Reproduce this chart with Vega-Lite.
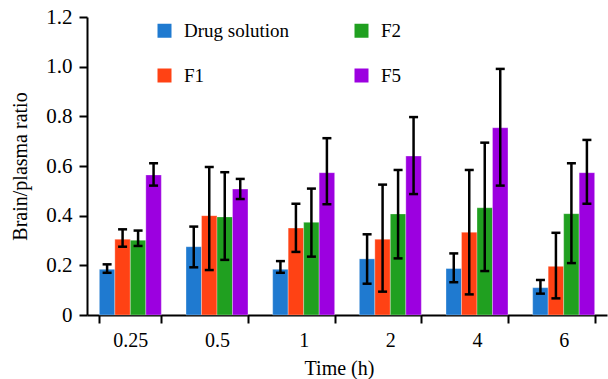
{
  "$schema": "https://vega.github.io/schema/vega-lite/v6.json",
  "width": 520,
  "height": 298,
  "autosize": {"type": "none"},
  "padding": {"left": 87, "top": 17, "right": 1, "bottom": 64},
  "config": {
    "view": {"stroke": null},
    "font": "Liberation Serif",
    "axis": {
      "domainColor": "black",
      "domainWidth": 2,
      "tickColor": "black",
      "tickWidth": 2,
      "tickSize": 8,
      "labelFontSize": 20,
      "labelColor": "black",
      "labelFont": "Liberation Serif",
      "titleFont": "Liberation Serif",
      "titleFontSize": 20,
      "titleFontWeight": "normal",
      "titleColor": "black",
      "grid": false
    },
    "legend": {
      "labelFont": "Liberation Serif",
      "labelFontSize": 19,
      "labelColor": "black"
    }
  },
  "data": {
    "values": [
      {"time": "0.25", "group": "Drug solution", "mean": 0.184, "lo": 0.170, "hi": 0.204},
      {"time": "0.25", "group": "F1", "mean": 0.305, "lo": 0.275, "hi": 0.345},
      {"time": "0.25", "group": "F2", "mean": 0.301, "lo": 0.278, "hi": 0.340},
      {"time": "0.25", "group": "F5", "mean": 0.564, "lo": 0.521, "hi": 0.611},
      {"time": "0.5", "group": "Drug solution", "mean": 0.275, "lo": 0.192, "hi": 0.356},
      {"time": "0.5", "group": "F1", "mean": 0.400, "lo": 0.181, "hi": 0.596},
      {"time": "0.5", "group": "F2", "mean": 0.395, "lo": 0.222, "hi": 0.575},
      {"time": "0.5", "group": "F5", "mean": 0.507, "lo": 0.467, "hi": 0.548},
      {"time": "1", "group": "Drug solution", "mean": 0.184, "lo": 0.170, "hi": 0.217},
      {"time": "1", "group": "F1", "mean": 0.350, "lo": 0.254, "hi": 0.448},
      {"time": "1", "group": "F2", "mean": 0.373, "lo": 0.235, "hi": 0.509},
      {"time": "1", "group": "F5", "mean": 0.573, "lo": 0.446, "hi": 0.712},
      {"time": "2", "group": "Drug solution", "mean": 0.226, "lo": 0.126, "hi": 0.325},
      {"time": "2", "group": "F1", "mean": 0.305, "lo": 0.094, "hi": 0.525},
      {"time": "2", "group": "F2", "mean": 0.407, "lo": 0.228, "hi": 0.584},
      {"time": "2", "group": "F5", "mean": 0.640, "lo": 0.487, "hi": 0.797},
      {"time": "4", "group": "Drug solution", "mean": 0.187, "lo": 0.132, "hi": 0.248},
      {"time": "4", "group": "F1", "mean": 0.333, "lo": 0.083, "hi": 0.584},
      {"time": "4", "group": "F2", "mean": 0.432, "lo": 0.177, "hi": 0.694},
      {"time": "4", "group": "F5", "mean": 0.754, "lo": 0.521, "hi": 0.991},
      {"time": "6", "group": "Drug solution", "mean": 0.110, "lo": 0.086, "hi": 0.141},
      {"time": "6", "group": "F1", "mean": 0.196, "lo": 0.067, "hi": 0.331},
      {"time": "6", "group": "F2", "mean": 0.408, "lo": 0.209, "hi": 0.611},
      {"time": "6", "group": "F5", "mean": 0.573, "lo": 0.448, "hi": 0.705}
    ]
  },
  "encoding": {
    "x": {
      "field": "time",
      "type": "nominal",
      "sort": ["0.25", "0.5", "1", "2", "4", "6"],
      "scale": {"paddingInner": 0.285, "paddingOuter": 0.1425},
      "axis": {"title": "Time (h)", "labelAngle": 0, "tickBand": "extent", "labelPadding": 7, "titlePadding": 8, "titleX": 252}
    },
    "xOffset": {
      "field": "group",
      "type": "nominal",
      "sort": ["Drug solution", "F1", "F2", "F5"],
      "scale": {"paddingInner": 0, "paddingOuter": 0}
    }
  },
  "layer": [
    {
      "mark": {"type": "bar", "stroke": "#ffffff", "strokeWidth": 0.6, "strokeOpacity": 0.5},
      "encoding": {
        "y": {
          "field": "mean",
          "type": "quantitative",
          "scale": {"domain": [0, 1.2], "nice": false},
          "axis": {
            "title": "Brain/plasma ratio",
            "values": [0, 0.2, 0.4, 0.6, 0.8, 1.0, 1.2],
            "labelExpr": "datum.value == 0 ? '0' : format(datum.value, '.1f')",
            "labelFontSize": 21,
            "labelPadding": 7,
            "titlePadding": 15
          }
        },
        "color": {
          "field": "group",
          "type": "nominal",
          "scale": {
            "domain": ["Drug solution", "F1", "F2", "F5"],
            "range": ["#1f7ad0", "#ff4214", "#20a020", "#9c00e0"]
          },
          "legend": {
            "title": null,
            "orient": "none",
            "legendX": 68,
            "legendY": 4,
            "columns": 2,
            "symbolType": "square",
            "symbolSize": 196,
            "symbolStrokeWidth": 0,
            "symbolOpacity": 1,
            "labelOffset": 10,
            "rowPadding": 25,
            "columnPadding": 62,
            "padding": 0
          }
        }
      }
    },
    {
      "mark": {"type": "rule", "color": "black", "strokeWidth": 2.5},
      "encoding": {
        "y": {"field": "lo", "type": "quantitative"},
        "y2": {"field": "hi"}
      }
    },
    {
      "mark": {"type": "tick", "orient": "horizontal", "color": "black", "thickness": 2.5, "size": 9, "opacity": 1},
      "encoding": {"y": {"field": "hi", "type": "quantitative"}}
    },
    {
      "mark": {"type": "tick", "orient": "horizontal", "color": "black", "thickness": 2.5, "size": 9, "opacity": 1},
      "encoding": {"y": {"field": "lo", "type": "quantitative"}}
    }
  ]
}
